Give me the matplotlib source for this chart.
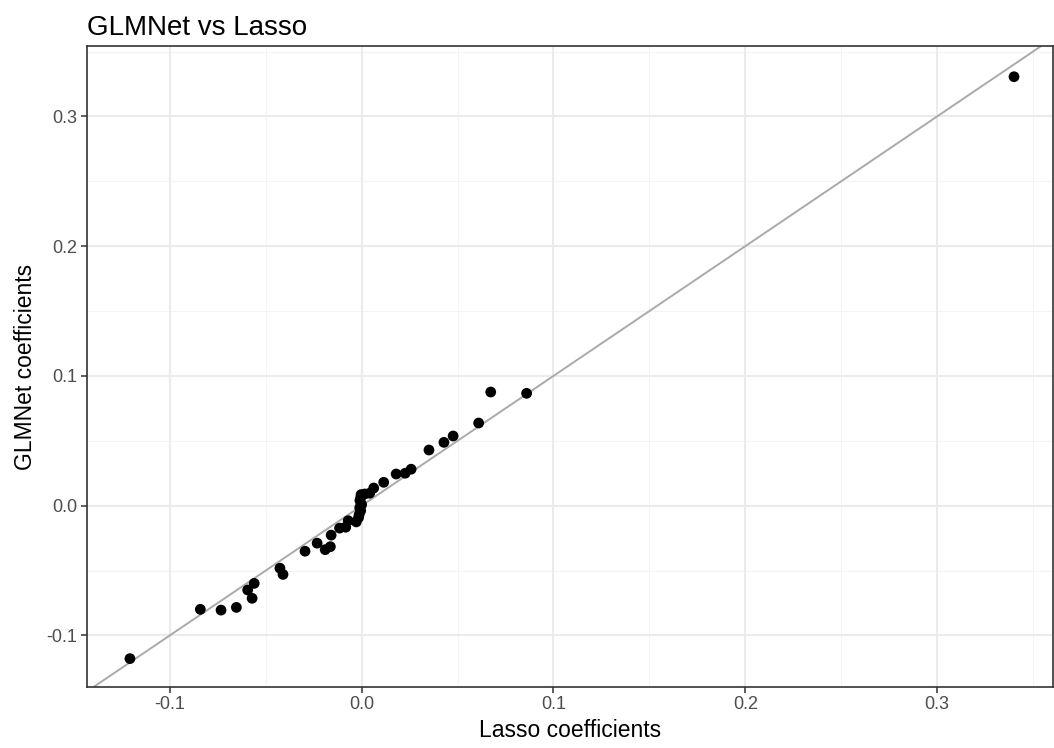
import matplotlib
matplotlib.use('Agg')
import matplotlib.pyplot as plt
import numpy as np

# Lasso vs GLMNet coefficients
lasso = [-0.1208, -0.0841, -0.0733, -0.0653, -0.0594, -0.0560, -0.0571,
         -0.0426, -0.0410, -0.0295, -0.0232, -0.0190, -0.0163, -0.0159,
         -0.0115, -0.0083, -0.0070, -0.0028, -0.0013, -0.0016, -0.0010,
         -0.0005, 0.0000, -0.0009, -0.0005, -0.0003, 0.0016, 0.0042,
         0.0063, 0.0115, 0.0180, 0.0227, 0.0258, 0.0351, 0.0429, 0.0477,
         0.0610, 0.0673, 0.0860, 0.3401]
glmnet = [-0.1179, -0.0799, -0.0805, -0.0784, -0.0650, -0.0599, -0.0714,
          -0.0482, -0.0530, -0.0351, -0.0289, -0.0339, -0.0316, -0.0227,
          -0.0173, -0.0166, -0.0116, -0.0125, -0.0069, -0.0092, -0.0015,
          -0.0039, 0.0008, 0.0039, 0.0062, 0.0085, 0.0090, 0.0096,
          0.0136, 0.0180, 0.0244, 0.0250, 0.0281, 0.0429, 0.0488, 0.0537,
          0.0637, 0.0876, 0.0866, 0.3306]

major_ticks = [-0.1, 0.0, 0.1, 0.2, 0.3]
minor_ticks = [-0.05, 0.05, 0.15, 0.25, 0.35]
tick_labels = ['-0.1', '0.0', '0.1', '0.2', '0.3']

plt.rcParams['font.family'] = ['Liberation Sans', 'DejaVu Sans']

fig = plt.figure(figsize=(10.54, 7.48), dpi=100)
ax = fig.add_axes([0.0825, 0.082, 0.9165, 0.856])

ax.set_xlim(-0.1432, 0.3604)
ax.set_ylim(-0.1395, 0.354)

# grid like theme_bw
for v in minor_ticks:
    ax.axvline(v, color='#F4F4F4', lw=0.8, zorder=0)
    ax.axhline(v, color='#F4F4F4', lw=0.8, zorder=0)
for v in major_ticks:
    ax.axvline(v, color='#EBEBEB', lw=1.5, zorder=0)
    ax.axhline(v, color='#EBEBEB', lw=1.5, zorder=0)

# y = x reference line
ax.axline((0, 0), slope=1, color='#AAAAAA', lw=1.4, zorder=1)

ax.scatter(lasso, glmnet, s=60, color='black', edgecolors='none', zorder=2)

ax.set_xticks(major_ticks)
ax.set_xticklabels(tick_labels)
ax.set_yticks(major_ticks)
ax.set_yticklabels(tick_labels)
ax.tick_params(axis='both', length=4, width=1.1, color='#333333',
               labelsize=13, labelcolor='#4D4D4D', pad=3)

for sp in ax.spines.values():
    sp.set_color('#333333')
    sp.set_linewidth(1.2)

ax.set_xlabel('Lasso coefficients', fontsize=16.5, color='black', labelpad=4)
ax.set_ylabel('GLMNet coefficients', fontsize=16.5, color='black', labelpad=7)
ax.set_title('GLMNet vs Lasso', fontsize=20, loc='left', pad=8)

plt.savefig('out.png', dpi=100)
plt.close()
